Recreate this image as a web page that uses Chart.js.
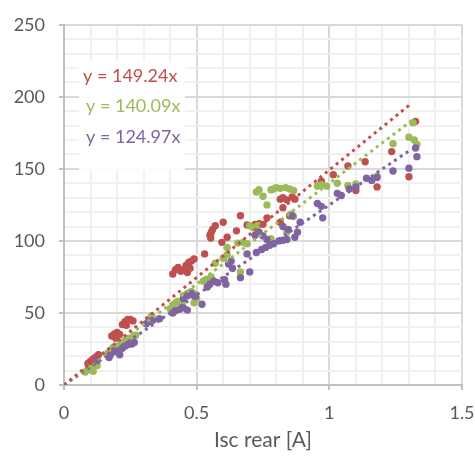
<!DOCTYPE html>
<html>
<head>
<meta charset="utf-8">
<script src="https://cdn.jsdelivr.net/npm/chart.js@4/dist/chart.umd.min.js"></script>
<style>
  html, body { margin: 0; padding: 0; background: #fff; }
  #wrap { width: 475px; height: 457px; }
</style>
</head>
<body>
<div id="wrap"><canvas id="iscChart"></canvas></div>
<script>
// scatter data
const redX = [0.09,0.10,0.11,0.12,0.13,0.105, 0.18,0.19,0.20,0.21,0.195, 0.22,0.23,0.24,0.25,0.26,0.235, 0.41,0.42,0.43,0.44, 0.45,0.46,0.47,0.48,0.49,0.465,0.475, 0.53, 0.55,0.555,0.56,0.57,0.553, 0.60,0.595,0.615,0.65,0.665,0.69, 0.72,0.735,0.75,0.765, 0.815,0.825,0.84,0.86,0.87,0.825,0.815,0.85, 0.97,1.015,1.07,1.10,1.135,1.18,1.235,1.30,1.325];
const redY = [15,16.5,18,19.5,21,14, 34,35.5,36.5,35,32.5, 42,44,45.5,45.5,44.5,41.5, 77,80,81.5,79, 80,83,85,86,87.5,78,81, 91, 104,106,108,110.5,102, 113,99,102.5,107,117.5,111, 111.5,112,111.5,116, 129,130,128.5,130.5,129,123,113,117.5, 141.5,146,152,135,155,137.5,162,144.5,183];

const greenX = [0.08,0.09,0.10,0.11,0.125, 0.165,0.175,0.185,0.195, 0.20,0.215,0.23,0.245,0.26,0.27, 0.32,0.33, 0.40,0.41,0.42,0.43,0.445, 0.45,0.465,0.48,0.495,0.50,0.49, 0.525,0.54,0.555,0.57, 0.60,0.615,0.615,0.665, 0.655,0.675,0.69,0.70, 0.715,0.73,0.78,0.84,0.855,0.865, 0.725,0.735,0.75,0.765, 0.78,0.79,0.80,0.815,0.835,0.85,0.865, 0.955,0.97,0.99,1.03,1.07,1.10,1.18,1.24,1.30,1.32,1.33,1.315];
const greenY = [9,10.5,11.5,9.5,13.5, 22,24,26,25, 27,29,31,32.5,33,34.5, 45.5,48, 53,55,57,58,56, 62,63.5,65,63,60,57, 72,73.5,75,84.5, 88,90.5,95.5,78.5, 98.5,99,98,110.5, 109,110.5,101.5,106,118.5,117, 134,135.5,131,125, 135.5,136,137,136.5,137,136,135, 138,139,138,140,138.5,139.5,145,167.5,172,170,167,182];

const purpleX = [0.125,0.17,0.175,0.18,0.19,0.20,0.21, 0.22,0.23,0.24,0.255,0.265, 0.31,0.32,0.335,0.36, 0.41,0.42,0.435,0.45,0.465, 0.45,0.465,0.48,0.495,0.52, 0.54,0.55,0.565,0.58,0.605,0.61, 0.62,0.63,0.635,0.665,0.69,0.70, 0.72,0.735,0.75,0.765,0.725,0.76, 0.745,0.775,0.79,0.81,0.825,0.84, 0.825,0.845,0.86,0.87,0.88,0.89, 0.955,0.97,0.975, 1.03,1.045,1.075,1.10, 1.14,1.16,1.18,1.24,1.30,1.325,1.33];
const purpleY = [17,19,21,22.5,24,23,21, 25.5,27,28,28.5,29.5, 42.5,44,45,46, 50,51.5,52.5,53.5,52, 60,62,63.5,61.5,56, 68,70,72,71,73,70, 84,86,81,74.5,91,78.5, 104,106,103.5,101,92,95.5, 94,97,98,100,100.5,101, 110,108,117.5,102.5,106,113, 126,124,116, 133,131.5,136,137.5, 143.5,142,144,148.5,150.5,164.5,158.5];

// trendline slopes (through origin) and their labels
const slopes = [149.24, 140.09, 124.97];
const trendLabels = ['y = 149.24x', 'y = 140.09x', 'y = 124.97x'];
const colors = ['#C0504D', '#9BBB59', '#8064A2'];

const xTicks = [0, 0.5, 1, 1.5];
const yTicks = [0, 50, 100, 150, 200, 250];

const toPoints = (xs, ys) => xs.map((x, i) => ({ x: x, y: ys[i] }));
const trendEnd = Math.max(...redX, ...greenX, ...purpleX) - 0.02;
const trendLine = k => [{ x: 0, y: 0 }, { x: trendEnd, y: k * trendEnd }];

const isMajor = (v, step) => Math.abs(v / step - Math.round(v / step)) < 1e-6;

const labelPlugin = {
    id: 'trendLabels',
    afterDatasetsDraw(chart) {
        const { ctx, chartArea } = chart;
        ctx.save();
        ctx.fillStyle = '#ffffff';
        ctx.fillRect(chartArea.left + 15, chartArea.top + 37, 106, 108);
        ctx.font = '18px Lato';
        ctx.textBaseline = 'middle';
        ctx.textAlign = 'left';
        trendLabels.forEach((t, i) => {
            ctx.fillStyle = colors[i];
            ctx.fillText(t, chartArea.left + 19 + (i > 0 ? 3 : 0), chartArea.top + 51 + i * 30.5);
        });
        ctx.restore();
    }
};

const scatterSet = (xs, ys, color, order) => ({
    type: 'scatter',
    data: toPoints(xs, ys),
    backgroundColor: color,
    borderColor: color,
    pointRadius: 3.7,
    pointBorderWidth: 0,
    order: order
});

const trendSet = (k, color) => ({
    type: 'line',
    data: trendLine(k),
    borderColor: color,
    borderWidth: 3,
    borderDash: [3, 4],
    pointRadius: 0,
    fill: false,
    order: 0
});

const ctx = document.getElementById('iscChart').getContext('2d');
new Chart(ctx, {
    type: 'scatter',
    data: {
        datasets: [
            trendSet(slopes[0], colors[0]),
            trendSet(slopes[1], colors[1]),
            trendSet(slopes[2], colors[2]),
            scatterSet(redX, redY, colors[0], 3),
            scatterSet(greenX, greenY, colors[1], 2),
            scatterSet(purpleX, purpleY, colors[2], 1)
        ]
    },
    options: {
        responsive: true,
        maintainAspectRatio: false,
        animation: false,
        layout: { padding: { top: 17, right: 0, left: 0, bottom: 0 } },
        plugins: {
            legend: { display: false },
            tooltip: { enabled: false }
        },
        scales: {
            x: {
                type: 'linear',
                min: 0,
                max: 1.5,
                afterFit: s => { s.height = 72; s.paddingRight = 13; },
                afterBuildTicks: s => {
                    const t = [];
                    for (let i = 0; i <= 15; i++) t.push({ value: i / 10 });
                    s.ticks = t;
                },
                ticks: {
                    autoSkip: false,
                    maxRotation: 0,
                    padding: 12,
                    color: '#595959',
                    font: { family: 'Lato', size: 18 },
                    callback: v => (xTicks.some(t => Math.abs(t - v) < 1e-6) ? String(v) : '')
                },
                grid: {
                    color: c => isMajor(c.tick.value, 0.5) ? '#d9d9d9' : '#f0f0f0',
                    lineWidth: 2,
                    tickLength: 5,
                    tickColor: c => isMajor(c.tick.value, 0.5) ? '#bfbfbf' : 'rgba(0,0,0,0)'
                },
                border: { color: '#bfbfbf', width: 2 },
                title: {
                    display: true,
                    text: 'Isc rear [A]',
                    color: '#595959',
                    font: { family: 'Lato', size: 21 },
                    padding: { top: 4 }
                }
            },
            y: {
                type: 'linear',
                min: 0,
                max: 250,
                afterFit: s => { s.width = 64; },
                afterBuildTicks: s => {
                    const t = [];
                    for (let v = 0; v <= 250; v += 10) t.push({ value: v });
                    s.ticks = t;
                },
                ticks: {
                    autoSkip: false,
                    padding: 14,
                    color: '#595959',
                    font: { family: 'Lato', size: 18 },
                    callback: v => (yTicks.includes(v) ? String(v) : '')
                },
                grid: {
                    color: c => isMajor(c.tick.value, 50) ? '#d9d9d9' : '#f0f0f0',
                    lineWidth: 2,
                    tickLength: 5,
                    tickColor: c => isMajor(c.tick.value, 50) ? '#bfbfbf' : 'rgba(0,0,0,0)'
                },
                border: { color: '#bfbfbf', width: 2 }
            }
        }
    },
    plugins: [labelPlugin]
});
</script>
</body>
</html>
